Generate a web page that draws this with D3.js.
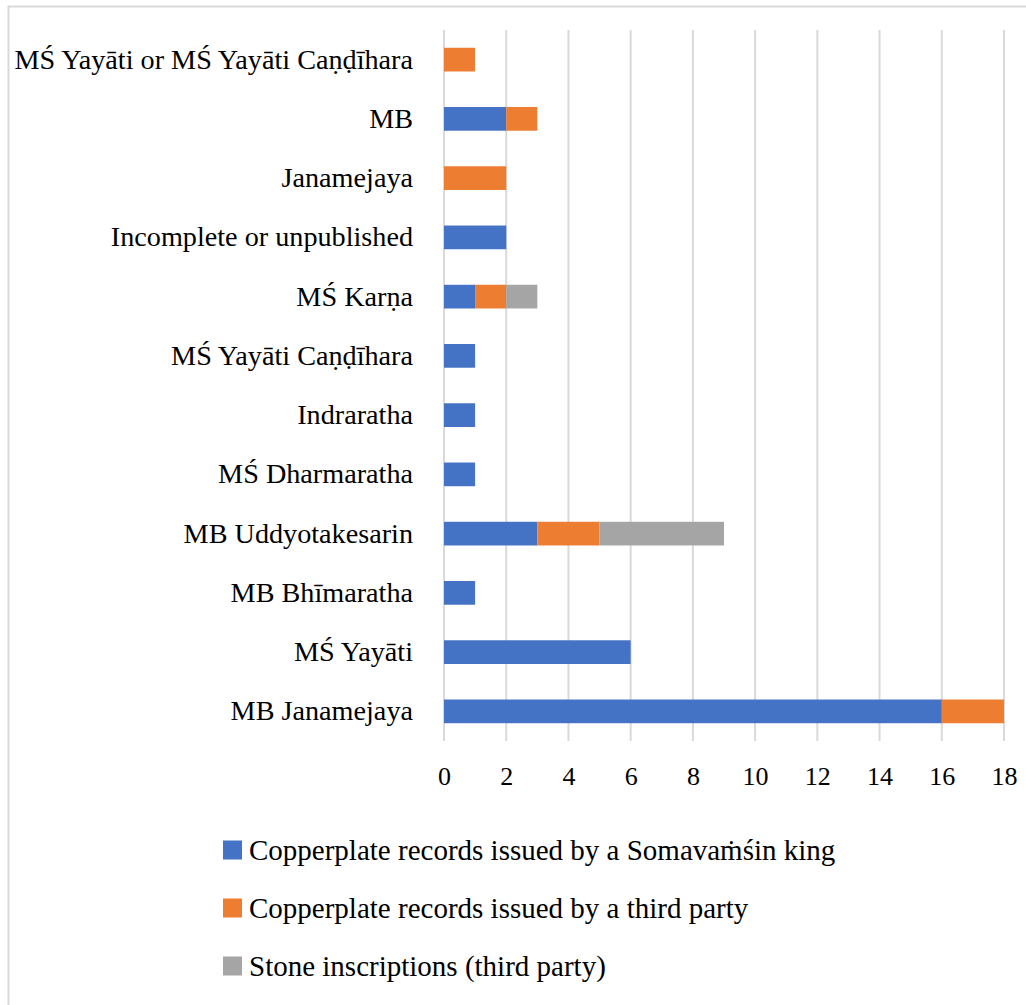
<!DOCTYPE html>
<html>
<head>
<meta charset="utf-8">
<script src="https://cdn.jsdelivr.net/npm/d3@7"></script>
<style>
  body { margin: 0; background: #fff; }
  text { font-family: "Liberation Serif", "DejaVu Serif", serif; fill: #000; }
</style>
</head>
<body>
<svg id="chart"></svg>
<script>
var categories = [
  "MŚ Yayāti or MŚ Yayāti Caṇḍīhara",
  "MB",
  "Janamejaya",
  "Incomplete or unpublished",
  "MŚ Karṇa",
  "MŚ Yayāti Caṇḍīhara",
  "Indraratha",
  "MŚ Dharmaratha",
  "MB Uddyotakesarin",
  "MB Bhīmaratha",
  "MŚ Yayāti",
  "MB Janamejaya"
];
var seriesNames = [
  "Copperplate records issued by a Somavaṁśin king",
  "Copperplate records issued by a third party",
  "Stone inscriptions (third party)"
];
var somavamsin = [0, 2, 0, 2, 1, 1, 1, 1, 3, 1, 6, 16];
var thirdParty = [1, 1, 2, 0, 1, 0, 0, 0, 2, 0, 0, 2];
var stone      = [0, 0, 0, 0, 1, 0, 0, 0, 4, 0, 0, 0];
var xTicks = [0, 2, 4, 6, 8, 10, 12, 14, 16, 18];
var colors = ["#4472C4", "#ED7D31", "#A5A5A5"];

var W = 1026, H = 1005;
var svg = d3.select("#chart").attr("width", W).attr("height", H);

// outer frame (only top and left edges show in the crop)
svg.append("path")
  .attr("d", "M8.5," + H + "V6.5H" + W)
  .attr("fill", "none").attr("stroke", "#d9d9d9").attr("stroke-width", 2);

var x = d3.scaleLinear().domain([0, 18]).range([444, 1004]);
var y = d3.scaleBand().domain(categories).range([30, 741]).paddingInner(0.6).paddingOuter(0.3);

// gridlines
svg.append("g").selectAll("line")
  .data(xTicks)
  .enter().append("line")
  .attr("x1", function(d) { return x(d); })
  .attr("x2", function(d) { return x(d); })
  .attr("y1", 30).attr("y2", 741)
  .attr("stroke", "#d9d9d9").attr("stroke-width", 2);

// stacked bars
var rows = categories.map(function(c, i) {
  return { cat: c, s0: somavamsin[i], s1: thirdParty[i], s2: stone[i] };
});
var stack = d3.stack().keys(["s0", "s1", "s2"])(rows);

svg.append("g").selectAll("g")
  .data(stack)
  .enter().append("g")
  .attr("fill", function(d, i) { return colors[i]; })
  .selectAll("rect")
  .data(function(d) { return d; })
  .enter().append("rect")
  .attr("x", function(d) { return x(d[0]); })
  .attr("width", function(d) { return x(d[1]) - x(d[0]); })
  .attr("y", function(d) { return y(d.data.cat); })
  .attr("height", y.bandwidth());

// category labels
var yAxis = svg.append("g")
  .attr("transform", "translate(444,0)")
  .call(d3.axisLeft(y).tickSize(0).tickPadding(31));
yAxis.select(".domain").remove();
yAxis.selectAll("text").style("font-size", "28.2px").attr("fill", "#000")
  .style("font-family", "'Liberation Serif', serif");

// x axis labels
var xAxis = svg.append("g")
  .attr("transform", "translate(0,767)")
  .call(d3.axisBottom(x).tickValues(xTicks).tickSize(0).tickPadding(0));
xAxis.select(".domain").remove();
xAxis.selectAll("text").style("font-size", "26px").attr("fill", "#000")
  .style("font-family", "'Liberation Serif', serif");

// legend
var legend = svg.append("g").selectAll("g")
  .data(seriesNames)
  .enter().append("g")
  .attr("transform", function(d, i) { return "translate(223," + (850 + i * 58) + ")"; });
legend.append("rect")
  .attr("x", 0).attr("y", -9.5)
  .attr("width", 19).attr("height", 19)
  .attr("fill", function(d, i) { return colors[i]; });
legend.append("text")
  .attr("x", 26).attr("y", 0).attr("dy", "0.35em")
  .style("font-size", "29px")
  .text(function(d) { return d; });
</script>
</body>
</html>
